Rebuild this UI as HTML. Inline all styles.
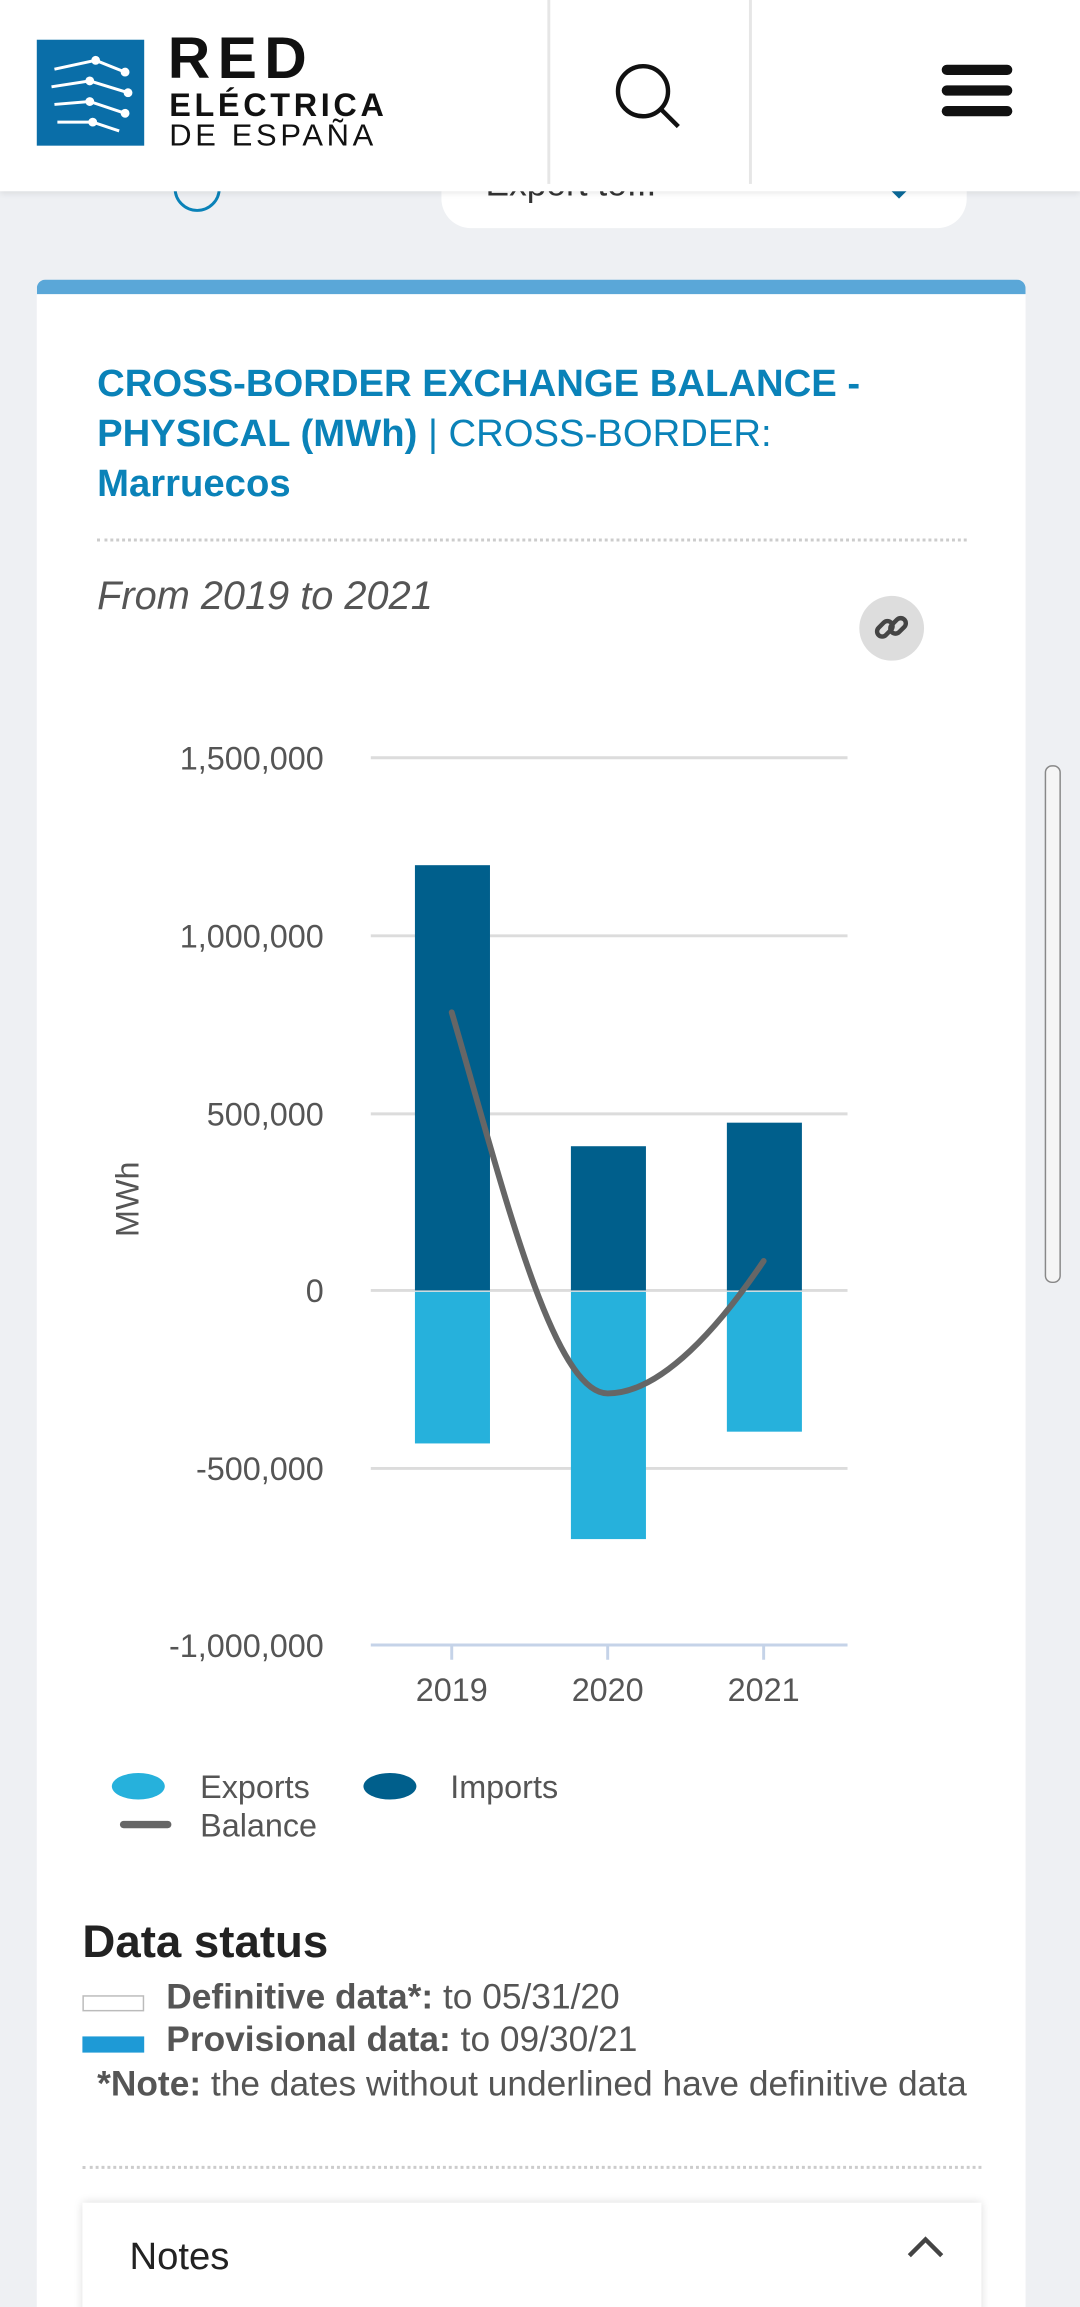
<!DOCTYPE html>
<html><head><meta charset="utf-8">
<style>
html,body{margin:0;padding:0;width:1080px;height:2306px;overflow:hidden;background:#eef0f3;}
#w{position:absolute;left:0;top:0;width:734px;height:1568px;transform:scale(1.4714);transform-origin:0 0;font-family:"Liberation Sans",sans-serif;background:#eef0f3;overflow:hidden;}
.a{position:absolute;}
</style></head><body><div id="w">
<div class="a" style="left:300px;top:100px;width:357px;height:55px;background:#fff;border-radius:20px;"></div>
<div class="a" style="left:330px;top:112px;font-size:24px;color:#333;">Export to...</div>
<div class="a" style="left:604px;top:128px;width:0;height:0;border-left:7px solid transparent;border-right:7px solid transparent;border-top:7px solid #0a6a9a;"></div>
<div class="a" style="left:118px;top:112px;width:28px;height:28px;border:2px solid #0a82b8;border-radius:50%;"></div>
<div class="a" style="left:0;top:0;width:734px;height:130px;background:#fff;box-shadow:0 2px 4px rgba(0,0,0,.08);"></div>
<div class="a" style="left:25px;top:27px;width:73px;height:72px;background:#0a6ea8;"></div>
<svg class="a" style="left:25px;top:27px" width="73" height="72"><g stroke="#fff" stroke-width="2" fill="none"><path d="M12 20 L40 14 L60 22"/><path d="M10 32 L36 28 L62 36"/><path d="M12 44 L36 42 L60 50"/><path d="M14 56 L38 56 L56 62"/></g><g fill="#fff"><circle cx="40" cy="14" r="3"/><circle cx="36" cy="28" r="3"/><circle cx="36" cy="42" r="3"/><circle cx="38" cy="56" r="3"/><circle cx="60" cy="22" r="3"/><circle cx="62" cy="36" r="3"/><circle cx="60" cy="50" r="3"/></g></svg>
<div class="a" style="left:114px;top:18px;font-size:40px;font-weight:bold;letter-spacing:5px;color:#111;">RED</div>
<div class="a" style="left:115px;top:59px;font-size:22px;font-weight:bold;letter-spacing:2.5px;color:#111;">ELÉCTRICA</div>
<div class="a" style="left:115px;top:81px;font-size:21px;letter-spacing:2.5px;color:#111;">DE ESPAÑA</div>
<div class="a" style="left:372px;top:0;width:2px;height:125px;background:#e6e6e6;"></div>
<div class="a" style="left:509px;top:0;width:2px;height:125px;background:#e6e6e6;"></div>
<svg class="a" style="left:415px;top:40px" width="52" height="50"><circle cx="22" cy="22" r="17" stroke="#111" stroke-width="3" fill="none"/><line x1="34" y1="34" x2="46" y2="46" stroke="#111" stroke-width="3"/></svg>
<div class="a" style="left:640px;top:44px;width:48px;height:7px;background:#111;border-radius:4px;"></div>
<div class="a" style="left:640px;top:58px;width:48px;height:7px;background:#111;border-radius:4px;"></div>
<div class="a" style="left:640px;top:72px;width:48px;height:7px;background:#111;border-radius:4px;"></div>
<div class="a" style="left:25px;top:190px;width:672px;height:1400px;background:#fff;border-radius:6px 6px 0 0;border-top:10px solid #5aa7d8;"></div>
<div class="a" style="left:66px;top:243px;width:540px;font-size:26px;line-height:34px;color:#0a82b8;"><b>CROSS-BORDER EXCHANGE BALANCE - PHYSICAL (MWh)</b> | CROSS-BORDER: <b>Marruecos</b></div>
<div class="a" style="left:66px;top:366px;width:591px;border-top:2px dotted #ccc;"></div>
<div class="a" style="left:66px;top:390px;font-size:27px;font-style:italic;color:#555;">From 2019 to 2021</div>
<div class="a" style="left:584px;top:405px;width:44px;height:44px;border-radius:50%;background:#ddd;"></div>
<svg class="a" style="left:592px;top:413px" width="28" height="28"><g stroke="#444" stroke-width="3" fill="none"><rect x="3" y="11" width="12" height="7" rx="3.5" transform="rotate(-45 9 14)"/><rect x="12" y="9" width="12" height="7" rx="3.5" transform="rotate(-45 18 12)"/></g></svg>
<svg class="a" style="left:0;top:0" width="734" height="1568">
<g stroke="#dcdcdc" stroke-width="2"><line x1="252" y1="515" x2="576" y2="515"/><line x1="252" y1="636" x2="576" y2="636"/><line x1="252" y1="757" x2="576" y2="757"/><line x1="252" y1="877" x2="576" y2="877"/><line x1="252" y1="998" x2="576" y2="998"/></g>
<line x1="252" y1="1118" x2="576" y2="1118" stroke="#c5d3e8" stroke-width="2"/>
<g stroke="#c5d3e8" stroke-width="2"><line x1="307" y1="1118" x2="307" y2="1128"/><line x1="413" y1="1118" x2="413" y2="1128"/><line x1="519" y1="1118" x2="519" y2="1128"/></g>
<g font-size="22" fill="#555" text-anchor="end" font-family="Liberation Sans"><text x="220" y="523">1,500,000</text><text x="220" y="644">1,000,000</text><text x="220" y="765">500,000</text><text x="220" y="885">0</text><text x="220" y="1006">-500,000</text><text x="220" y="1126">-1,000,000</text></g>
<text x="94" y="815" font-size="22" fill="#555" text-anchor="middle" transform="rotate(-90 94 815)" font-family="Liberation Sans">MWh</text>
<g fill="#005f8c"><rect x="282" y="588" width="51" height="289"/><rect x="388" y="779" width="51" height="98"/><rect x="494" y="763" width="51" height="114"/></g>
<g fill="#26b1dc"><rect x="282" y="878" width="51" height="103"/><rect x="388" y="878" width="51" height="168"/><rect x="494" y="878" width="51" height="95"/></g>
<path d="M307,688 C340,800 375,947 413,947 C450,947 490,900 519,857" stroke="#666" stroke-width="4" fill="none" stroke-linecap="round"/>
<g font-size="22" fill="#555" text-anchor="middle" font-family="Liberation Sans"><text x="307" y="1156">2019</text><text x="413" y="1156">2020</text><text x="519" y="1156">2021</text></g>
<ellipse cx="94" cy="1214" rx="18" ry="9" fill="#26b1dc"/><ellipse cx="265" cy="1214" rx="18" ry="9" fill="#005f8c"/>
<line x1="84" y1="1240" x2="114" y2="1240" stroke="#666" stroke-width="5" stroke-linecap="round"/>
<g font-size="22" fill="#555" font-family="Liberation Sans"><text x="136" y="1222">Exports</text><text x="306" y="1222">Imports</text><text x="136" y="1248">Balance</text></g>
</svg>
<div class="a" style="left:56px;top:1302px;font-size:31px;font-weight:bold;color:#222;">Data status</div>
<div class="a" style="left:56px;top:1356px;width:40px;height:9px;border:1px solid #bbb;background:#fff;"></div>
<div class="a" style="left:56px;top:1384px;width:42px;height:11px;background:#1e9ad6;"></div>
<div class="a" style="left:113px;top:1344px;font-size:24px;color:#555;"><b>Definitive data*:</b> to 05/31/20</div>
<div class="a" style="left:113px;top:1373px;font-size:24px;color:#555;"><b>Provisional data:</b> to 09/30/21</div>
<div class="a" style="left:66px;top:1403px;font-size:24px;color:#555;white-space:nowrap;"><b>*Note:</b> the dates without underlined have definitive data</div>
<div class="a" style="left:56px;top:1472px;width:611px;border-top:2px dotted #ccc;"></div>
<div class="a" style="left:56px;top:1497px;width:611px;height:80px;background:#fff;box-shadow:0 0 6px rgba(0,0,0,.15);"></div>
<div class="a" style="left:88px;top:1518px;font-size:26px;color:#222;">Notes</div>
<svg class="a" style="left:615px;top:1518px" width="28" height="20"><path d="M3 15 L14 4 L25 15" stroke="#444" stroke-width="3" fill="none"/></svg>
<div class="a" style="left:710px;top:520px;width:9px;height:350px;border:1px solid #888;border-radius:5px;background:#f5f5f5;"></div>
</div></body></html>
